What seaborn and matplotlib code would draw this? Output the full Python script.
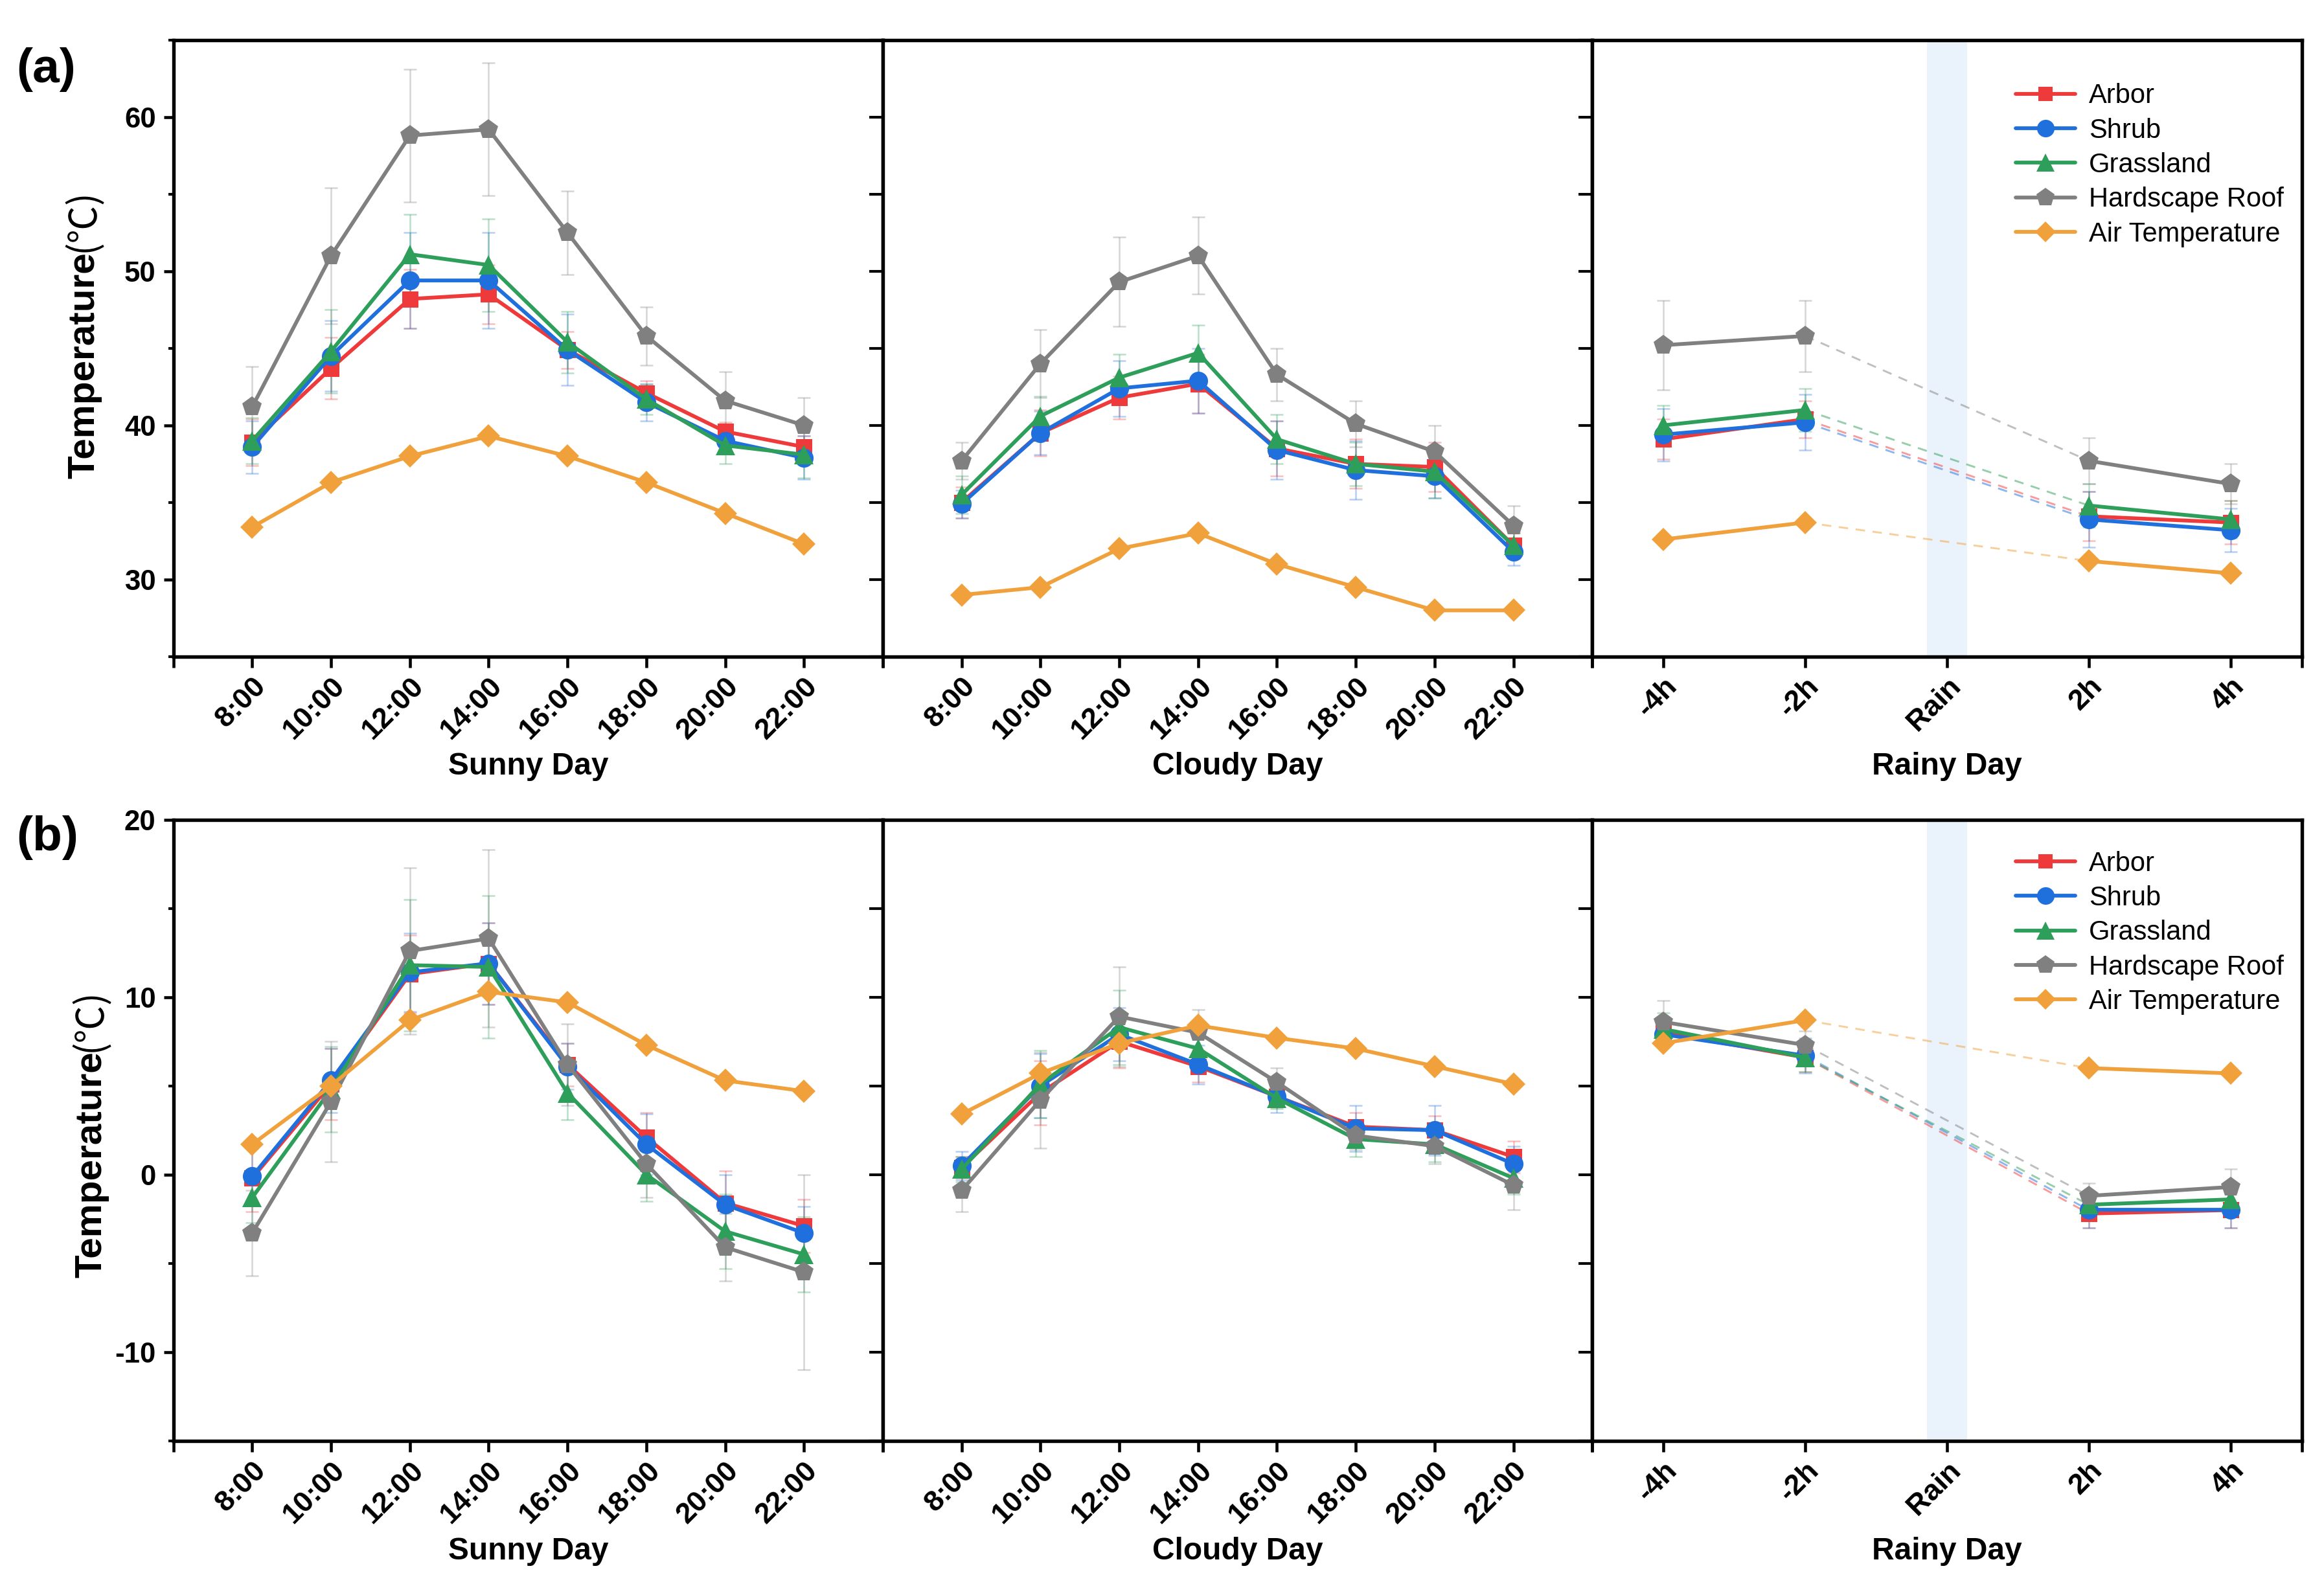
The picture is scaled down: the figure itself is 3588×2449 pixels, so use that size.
import numpy as np
import pandas as pd
import matplotlib
matplotlib.use("Agg")
import matplotlib.pyplot as plt
import seaborn as sns
from matplotlib.lines import Line2D
from matplotlib.ticker import MultipleLocator, FixedLocator
from matplotlib.font_manager import FontProperties

sns.set_theme(style="white")
plt.rcParams["font.family"] = ["Liberation Sans", "DejaVu Sans"]
plt.rcParams["axes.unicode_minus"] = False
plt.rcParams["text.color"] = "black"
plt.rcParams["xtick.color"] = "black"
plt.rcParams["ytick.color"] = "black"
plt.rcParams["axes.labelcolor"] = "black"

nan = np.nan

# ---------------- data ----------------
SERIES = ["Arbor", "Shrub", "Grassland", "Hardscape Roof", "Air Temperature"]
HOURS = ["8:00", "10:00", "12:00", "14:00", "16:00", "18:00", "20:00", "22:00"]
RAIN_CATS = ["-4h", "-2h", "Rain", "2h", "4h"]

A_SUNNY = {
    "Arbor": [38.9, 43.7, 48.2, 48.5, 44.9, 42.1, 39.6, 38.6],
    "Shrub": [38.6, 44.5, 49.4, 49.4, 44.9, 41.5, 39.0, 37.9],
    "Grassland": [39.0, 44.8, 51.1, 50.4, 45.4, 41.7, 38.7, 38.1],
    "Hardscape Roof": [41.2, 51.0, 58.8, 59.2, 52.5, 45.8, 41.6, 40.0],
    "Air Temperature": [33.4, 36.3, 38.0, 39.3, 38.0, 36.3, 34.3, 32.3],
}
A_SUNNY_ERR = {
    "Arbor": [1.5, 2.0, 1.9, 1.9, 1.2, 0.8, 0.6, 0.7],
    "Shrub": [1.7, 2.3, 3.1, 3.1, 2.3, 1.2, 0.8, 1.4],
    "Grassland": [1.5, 2.7, 2.6, 3.0, 2.0, 1.0, 1.2, 1.5],
    "Hardscape Roof": [2.6, 4.4, 4.3, 4.3, 2.7, 1.9, 1.9, 1.8],
}
A_CLOUDY = {
    "Arbor": [35.0, 39.5, 41.8, 42.7, 38.5, 37.5, 37.3, 32.2],
    "Shrub": [34.9, 39.5, 42.4, 42.9, 38.4, 37.1, 36.7, 31.8],
    "Grassland": [35.5, 40.6, 43.1, 44.7, 39.1, 37.5, 37.0, 32.2],
    "Hardscape Roof": [37.7, 44.0, 49.3, 51.0, 43.3, 40.1, 38.3, 33.5],
    "Air Temperature": [29.0, 29.5, 32.0, 33.0, 31.0, 29.5, 28.0, 28.0],
}
A_CLOUDY_ERR = {
    "Arbor": [1.0, 1.5, 1.4, 1.9, 1.8, 1.6, 1.6, 0.8],
    "Shrub": [0.9, 1.4, 1.8, 2.1, 1.9, 1.9, 1.4, 0.9],
    "Grassland": [1.2, 1.3, 1.5, 1.8, 1.6, 1.4, 1.7, 0.8],
    "Hardscape Roof": [1.2, 2.2, 2.9, 2.5, 1.7, 1.5, 1.7, 1.3],
}
A_RAINY = {
    "Arbor": [39.1, 40.4, nan, 34.1, 33.7],
    "Shrub": [39.4, 40.2, nan, 33.9, 33.2],
    "Grassland": [40.0, 41.0, nan, 34.8, 33.9],
    "Hardscape Roof": [45.2, 45.8, nan, 37.7, 36.2],
    "Air Temperature": [32.6, 33.7, nan, 31.2, 30.4],
}
A_RAINY_ERR = {
    "Arbor": [1.3, 1.2, nan, 1.6, 1.4],
    "Shrub": [1.7, 1.8, nan, 1.8, 1.4],
    "Grassland": [1.3, 1.4, nan, 1.4, 1.2],
    "Hardscape Roof": [2.9, 2.3, nan, 1.5, 1.3],
}
B_SUNNY = {
    "Arbor": [-0.2, 5.1, 11.3, 11.9, 6.2, 2.1, -1.6, -2.9],
    "Shrub": [-0.1, 5.3, 11.4, 11.9, 6.1, 1.7, -1.7, -3.3],
    "Grassland": [-1.3, 4.8, 11.8, 11.7, 4.6, 0.0, -3.2, -4.5],
    "Hardscape Roof": [-3.3, 4.1, 12.6, 13.3, 6.2, 0.6, -4.1, -5.5],
    "Air Temperature": [1.7, 5.0, 8.7, 10.3, 9.7, 7.3, 5.3, 4.7],
}
B_SUNNY_ERR = {
    "Arbor": [1.9, 2.0, 2.2, 2.3, 1.2, 1.4, 1.8, 1.5],
    "Shrub": [1.6, 1.8, 2.2, 2.3, 1.3, 1.7, 1.7, 1.5],
    "Grassland": [1.4, 2.4, 3.7, 4.0, 1.5, 1.5, 2.1, 2.1],
    "Hardscape Roof": [2.4, 3.4, 4.7, 5.0, 2.3, 1.9, 1.9, 5.5],
}
B_CLOUDY = {
    "Arbor": [0.4, 4.6, 7.5, 6.1, 4.4, 2.7, 2.5, 1.0],
    "Shrub": [0.5, 5.0, 7.9, 6.2, 4.4, 2.6, 2.5, 0.6],
    "Grassland": [0.3, 5.1, 8.3, 7.1, 4.3, 2.0, 1.7, -0.2],
    "Hardscape Roof": [-0.9, 4.2, 8.9, 8.0, 5.2, 2.2, 1.6, -0.6],
    "Air Temperature": [3.4, 5.7, 7.4, 8.4, 7.7, 7.1, 6.1, 5.1],
}
B_CLOUDY_ERR = {
    "Arbor": [0.6, 1.8, 1.5, 0.9, 0.6, 0.8, 0.8, 0.9],
    "Shrub": [0.8, 1.8, 1.5, 1.1, 0.9, 1.3, 1.4, 1.0],
    "Grassland": [0.7, 1.9, 2.1, 0.9, 0.6, 1.0, 1.0, 0.9],
    "Hardscape Roof": [1.2, 2.7, 2.8, 1.3, 0.8, 0.8, 1.0, 1.4],
}
B_RAINY = {
    "Arbor": [8.0, 6.6, nan, -2.2, -2.0],
    "Shrub": [7.9, 6.7, nan, -2.0, -2.0],
    "Grassland": [8.2, 6.6, nan, -1.7, -1.4],
    "Hardscape Roof": [8.6, 7.3, nan, -1.2, -0.7],
    "Air Temperature": [7.4, 8.7, nan, 6.0, 5.7],
}
B_RAINY_ERR = {
    "Arbor": [0.6, 0.8, nan, 0.8, 1.0],
    "Shrub": [0.7, 1.0, nan, 1.0, 1.0],
    "Grassland": [0.9, 0.8, nan, 0.7, 0.8],
    "Hardscape Roof": [1.2, 0.8, nan, 0.7, 1.0],
}

COLORS = {
    "Arbor": "#EE3A3A",
    "Shrub": "#1F6FDC",
    "Grassland": "#2E9E5B",
    "Hardscape Roof": "#808080",
    "Air Temperature": "#F0A13C",
}
MARKERS = {"Arbor": "s", "Shrub": "o", "Grassland": "^",
           "Hardscape Roof": "p", "Air Temperature": "D"}
MSIZE = {"Arbor": 6, "Shrub": 7, "Grassland": 7,
         "Hardscape Roof": 7.5, "Air Temperature": 6}

# ---------------- figure ----------------
W, H = 3588, 2449
fig = plt.figure(figsize=(W / 300, H / 300), dpi=300)

left, right = 0.0746, 0.9904
pw = (right - left) / 3
rows = [(0.586, 0.9748 - 0.586), (0.0916, 0.4832 - 0.0916)]

XTICK_FP = FontProperties(family="Liberation Sans", weight="bold", size=10.8)
YTICK_FP = FontProperties(family="Liberation Sans", weight="bold", size=10.5)
LW_SPINE = 1.3


def draw_panel(ax, cats, vals, errs, rainy):
    n = len(cats)
    recs = []
    for s in SERIES:
        for i in range(n):
            v = vals[s][i]
            if np.isnan(v):
                continue
            seg = 0 if (not rainy or i < 2) else 1
            recs.append({"x": i, "y": v, "series": s, "seg": seg})
    df = pd.DataFrame(recs)

    if rainy:
        ax.axvspan(1.86, 2.14, color="#EAF3FC", zorder=0, lw=0)

    for s in SERIES[:4]:
        xs = [i for i in range(n) if not np.isnan(vals[s][i])]
        ax.errorbar(xs, [vals[s][i] for i in xs], yerr=[errs[s][i] for i in xs],
                    fmt="none", ecolor=COLORS[s], alpha=0.33, elinewidth=0.6,
                    capsize=2.5, capthick=0.6, zorder=2)

    if rainy:
        for s in SERIES:
            ax.plot([1, 3], [vals[s][1], vals[s][3]], ls=(0, (5, 4)),
                    color=COLORS[s], alpha=0.5, lw=0.7, zorder=2)

    for s in SERIES:
        sub = df[df["series"] == s]
        sns.lineplot(data=sub, x="x", y="y", units="seg", estimator=None,
                     color=COLORS[s], marker=MARKERS[s], markersize=MSIZE[s],
                     markeredgewidth=0, linewidth=1.4, ax=ax, legend=False,
                     sort=False, zorder=3)

    if rainy:
        ax.set_xlim(-0.5, n - 0.5)
        ax.xaxis.set_minor_locator(FixedLocator([-0.5, n - 0.5]))
    else:
        ax.set_xlim(-1, n)
        ax.xaxis.set_minor_locator(FixedLocator([-1, n]))
    ax.set_xticks(range(n))
    ax.set_xticklabels(cats, rotation=45, ha="right", va="top",
                       rotation_mode="anchor")
    for lab in ax.get_xticklabels():
        lab.set_fontproperties(XTICK_FP)
    ax.tick_params(axis="x", which="both", bottom=True, direction="out",
                   length=4, width=1.1, color="black", pad=2)
    for sp in ax.spines.values():
        sp.set_visible(True)
        sp.set_color("black")
        sp.set_linewidth(LW_SPINE)
    ax.set_xlabel("")
    ax.set_ylabel("")
    ax.grid(False)


panels = [
    [(HOURS, A_SUNNY, A_SUNNY_ERR, False, "Sunny Day"),
     (HOURS, A_CLOUDY, A_CLOUDY_ERR, False, "Cloudy Day"),
     (RAIN_CATS, A_RAINY, A_RAINY_ERR, True, "Rainy Day")],
    [(HOURS, B_SUNNY, B_SUNNY_ERR, False, "Sunny Day"),
     (HOURS, B_CLOUDY, B_CLOUDY_ERR, False, "Cloudy Day"),
     (RAIN_CATS, B_RAINY, B_RAINY_ERR, True, "Rainy Day")],
]
ylims = [(25, 65), (-15, 20)]
letters = ["(a)", "(b)"]
leg_top = [0.93, 0.95]
ylab_x = [0.0405, 0.0435]
ylab_split = [0.841, 0.337]
letter_y = [0.956, 0.472]

for r, (bottom, height) in enumerate(rows):
    for c in range(3):
        ax = fig.add_axes([left + c * pw, bottom, pw, height])
        cats, vals, errs, rainy, xl = panels[r][c]
        draw_panel(ax, cats, vals, errs, rainy)
        ax.set_ylim(*ylims[r])
        ax.yaxis.set_major_locator(MultipleLocator(10))
        ax.yaxis.set_minor_locator(MultipleLocator(5))
        if c == 0:
            ax.tick_params(axis="y", which="major", left=True, direction="out",
                           length=3.5, width=1.1, color="black", pad=3)
            ax.tick_params(axis="y", which="minor", left=True, direction="out",
                           length=2, width=1.0, color="black")
            for lab in ax.get_yticklabels():
                lab.set_fontproperties(YTICK_FP)
        else:
            ax.tick_params(axis="y", which="both", left=True, direction="out",
                           length=5, width=1.0, color="black", labelleft=False)
        ax.set_xlabel(xl, family="Liberation Sans", weight="bold", size=11.5)
        ax.xaxis.set_label_coords(0.5, -0.155)
        ax.xaxis.label.set_va("top")
        if rainy:
            handles = [Line2D([0], [0], color=COLORS[s], marker=MARKERS[s],
                              markersize=MSIZE[s] - 0.5, markeredgewidth=0, lw=1.4)
                       for s in SERIES]
            ax.legend(handles, SERIES, loc="upper left",
                      bbox_to_anchor=(0.597, leg_top[r]), frameon=False,
                      prop=dict(family="Liberation Sans", size=10),
                      handlelength=2.2, handletextpad=0.5, labelspacing=0.32,
                      borderpad=0, borderaxespad=0)
    fig.text(ylab_x[r], ylab_split[r], "Temperature", rotation=90,
             rotation_mode="anchor", ha="right", va="baseline",
             family="Liberation Sans", weight="bold", size=14)
    fig.text(ylab_x[r], ylab_split[r], "(\u2103)", rotation=90,
             rotation_mode="anchor", ha="left", va="baseline",
             family=["Noto Sans CJK SC", "DejaVu Sans"], weight="normal", size=14)
    fig.text(0.007, letter_y[r], letters[r], ha="left", va="center",
             family="Liberation Sans", weight="bold", size=18)

fig.savefig("out.png", dpi=300)
